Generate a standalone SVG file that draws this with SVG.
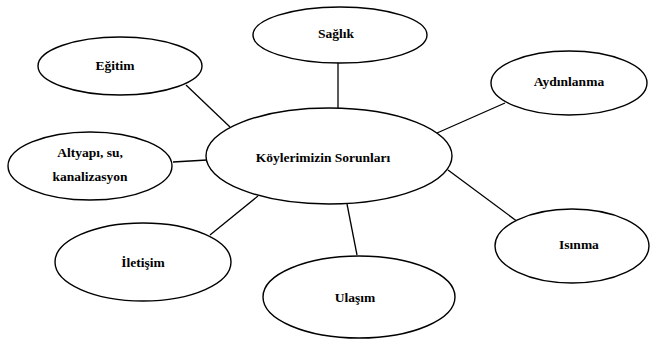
<svg xmlns="http://www.w3.org/2000/svg" width="650" height="344" viewBox="0 0 650 344">
<style>
.n ellipse{fill:#fff;stroke:#000;stroke-width:1.4}
.n text{font-family:'Liberation Serif','Times New Roman','DejaVu Serif',serif;font-weight:bold;font-size:13.5px;text-anchor:middle;fill:#000}
.c line{stroke:#000;stroke-width:1.3}
</style>
<rect width="650" height="344" fill="#fff"/>
<g class="c">
<line x1="186" y1="85" x2="230" y2="127"/>
<line x1="173" y1="162" x2="207" y2="160"/>
<line x1="338" y1="62" x2="338" y2="108"/>
<line x1="505" y1="103" x2="437" y2="133"/>
<line x1="258" y1="196" x2="210" y2="235"/>
<line x1="347" y1="204" x2="357" y2="255"/>
<line x1="448" y1="170" x2="518" y2="222"/>
</g>
<g id="center" class="n"><ellipse cx="329" cy="156" rx="123" ry="48"/><text x="323" y="162">Köylerimizin Sorunları</text></g>
<g id="saglik" class="n"><ellipse cx="340" cy="35" rx="87" ry="28"/><text x="336" y="38">Sağlık</text></g>
<g id="egitim" class="n"><ellipse cx="120" cy="66" rx="82" ry="29"/><text x="115" y="70">Eğitim</text></g>
<g id="altyapi" class="n"><ellipse cx="90" cy="166" rx="82" ry="34"/><text x="90" y="157">Altyapı, su,</text><text x="90" y="181">kanalizasyon</text></g>
<g id="aydinlanma" class="n"><ellipse cx="569" cy="83" rx="78" ry="32"/><text x="569" y="86">Aydınlanma</text></g>
<g id="iletisim" class="n"><ellipse cx="143" cy="262" rx="88" ry="39"/><text x="143" y="267">İletişim</text></g>
<g id="ulasim" class="n"><ellipse cx="359" cy="297" rx="96" ry="41"/><text x="355" y="302">Ulaşım</text></g>
<g id="isinma" class="n"><ellipse cx="572" cy="246" rx="77" ry="37"/><text x="579" y="249">Isınma</text></g>
</svg>
